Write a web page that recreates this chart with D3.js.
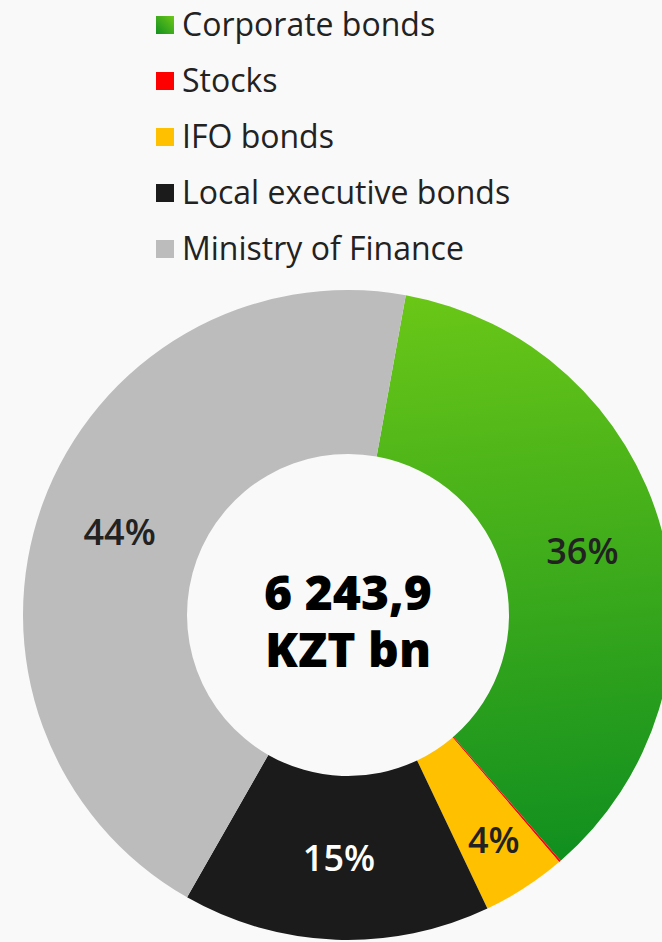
<!DOCTYPE html>
<html><head><meta charset="utf-8">
<script src="https://cdn.jsdelivr.net/npm/d3@7"></script>
<style>html,body{margin:0;padding:0;background:#f9f9f9;overflow:hidden}</style>
</head><body>
<script>
const categories = ["Corporate bonds", "Stocks", "IFO bonds", "Local executive bonds", "Ministry of Finance"];
const values = [35.8, 0.1, 4.2, 15.3, 44.6];
const labels = ["36%", "", "4%", "15%", "44%"];
const colors = ["url(#greenGrad)", "#ff0000", "#ffc000", "#1b1b1b", "#bcbcbc"];
const labelColors = ["#222", "#222", "#222", "#fff", "#222"];
const centerLines = ["6 243,9", "KZT bn"];

const W = 662, H = 942;
const FONT = "'Open Sans', Lato, sans-serif";
const svg = d3.select("body").append("svg").attr("width", W).attr("height", H);
svg.append("rect").attr("width", W).attr("height", H).attr("fill", "#f9f9f9");

const defs = svg.append("defs");
const g1 = defs.append("linearGradient").attr("id", "greenGrad")
  .attr("gradientUnits", "userSpaceOnUse").attr("x1", 0).attr("y1", -325).attr("x2", 60).attr("y2", 250);
g1.append("stop").attr("offset", 0).attr("stop-color", "#6cc817");
g1.append("stop").attr("offset", 1).attr("stop-color", "#12901f");
const g2 = defs.append("linearGradient").attr("id", "legGrad")
  .attr("x1", 1).attr("y1", 0).attr("x2", 0).attr("y2", 1);
g2.append("stop").attr("offset", 0).attr("stop-color", "#6cc817");
g2.append("stop").attr("offset", 1).attr("stop-color", "#12901f");

// Legend
const leg = svg.append("g").attr("transform", "translate(156,0)");
const rowY = d3.scalePoint().domain(categories).range([25, 249]);
categories.forEach((c, i) => {
  const row = leg.append("g").attr("transform", `translate(0,${rowY(c)})`);
  row.append("rect").attr("x", 0).attr("y", -9).attr("width", 18).attr("height", 18)
    .attr("fill", i === 0 ? "url(#legGrad)" : colors[i]);
  row.append("text").attr("x", 26).attr("y", 10.5).text(c)
    .attr("font-family", FONT).attr("font-size", 32)
    .attr("fill", "#222");
});

// Donut
const cx = 348, cy = 615, R = 325, r = 161;
const startAngle = 10.24 * Math.PI / 180;
const pie = d3.pie().sort(null).value(d => d)
  .startAngle(startAngle).endAngle(startAngle + 2 * Math.PI);
const arcs = pie(values);
const arc = d3.arc().innerRadius(r).outerRadius(R);
const g = svg.append("g").attr("transform", `translate(${cx},${cy})`);
g.selectAll("path").data(arcs).enter().append("path")
  .attr("d", arc).attr("fill", (d, i) => colors[i]);

const labelArc = d3.arc().innerRadius(r).outerRadius(R);
const smallArc = d3.arc().innerRadius(r + 50).outerRadius(R);
g.selectAll("text.lbl").data(arcs).enter().append("text").attr("class", "lbl")
  .attr("transform", (d, i) => {
    const c = (values[i] < 6 ? smallArc : labelArc).centroid(d);
    return `translate(${c[0]},${c[1]})`;
  })
  .attr("text-anchor", "middle").attr("dy", "0.36em")
  .attr("font-family", FONT).attr("font-size", 36)
  .attr("font-weight", 600)
  .attr("fill", (d, i) => labelColors[i])
  .text((d, i) => labels[i]);

// Center text
g.selectAll("text.ctr").data(centerLines).enter().append("text").attr("class", "ctr")
  .attr("x", 0).attr("y", (d, i) => -5 + i * 57)
  .attr("text-anchor", "middle")
  .attr("font-family", FONT).attr("font-size", 48)
  .attr("font-weight", 800).attr("fill", "#000")
  .text(d => d);
</script>
</body></html>
